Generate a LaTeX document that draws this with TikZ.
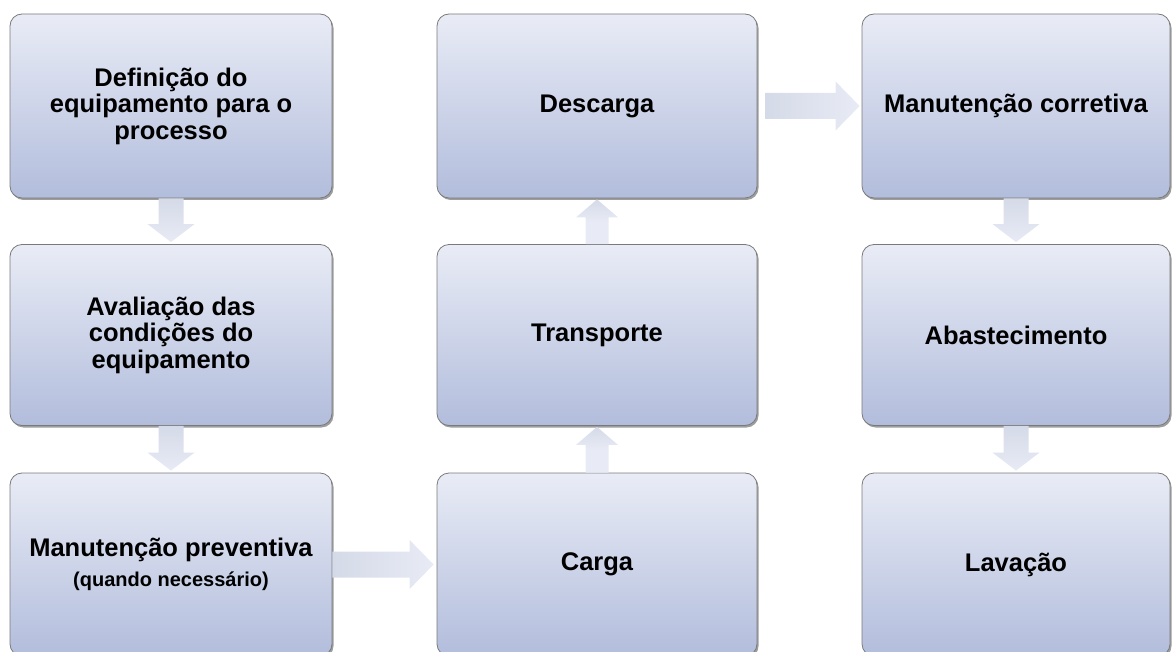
\documentclass[tikz,border=0pt]{standalone}
\usepackage{fontspec}
\setmainfont{Liberation Sans}
\usetikzlibrary{calc,shadows}
\definecolor{boxtop}{HTML}{E9ECF6}
\definecolor{boxbot}{HTML}{B2BDDC}
\definecolor{boxline}{HTML}{7A7A7A}
\definecolor{arrA}{HTML}{D5DAE8}
\definecolor{arrB}{HTML}{E8EBF5}
\tikzset{
  procbox/.style={rounded corners=12pt, draw=boxline, line width=0.8pt,
    top color=boxtop, bottom color=boxbot, align=center, inner sep=4pt,
    font=\bfseries\fontsize{25.5}{26.5}\selectfont, text=black,
    drop shadow={shadow xshift=1.5pt, shadow yshift=-2pt, opacity=0.55, fill=black!70}},
  downfat/.style={to path={let \p1=(\tikztostart), \p2=(\tikztotarget) in
    (\x1-12.5pt,\y1) -- (\x1-12.5pt,\y2+18pt) -- (\x1-23.5pt,\y2+18pt) -- (\x1,\y2)
    -- (\x1+23.5pt,\y2+18pt) -- (\x1+12.5pt,\y2+18pt) -- (\x1+12.5pt,\y1) -- cycle}},
  upfat/.style={to path={let \p1=(\tikztostart), \p2=(\tikztotarget) in
    (\x1-11.5pt,\y1) -- (\x1-11.5pt,\y2-18pt) -- (\x1-21pt,\y2-18pt) -- (\x1,\y2)
    -- (\x1+21pt,\y2-18pt) -- (\x1+11.5pt,\y2-18pt) -- (\x1+11.5pt,\y1) -- cycle}},
  rightfat/.style={to path={let \p1=(\tikztostart), \p2=(\tikztotarget) in
    (\x1,\y1-13pt) -- (\x2-24pt,\y1-13pt) -- (\x2-24pt,\y1-24.5pt) -- (\x2,\y1)
    -- (\x2-24pt,\y1+24.5pt) -- (\x2-24pt,\y1+13pt) -- (\x1,\y1+13pt) -- cycle}},
  vshade/.style={top color=arrA, bottom color=arrB},
  ushade/.style={top color=arrA, bottom color=arrB, middle color=arrB},
  hshade/.style={left color=arrA, right color=arrB},
}
\begin{document}
\begin{tikzpicture}[x=1pt,y=1pt]
\useasboundingbox (0,0) rectangle (1173,-652);
% column 1
\node[procbox, minimum width=322pt, minimum height=184pt] (def) at (171,-106)
  {Definição do\\equipamento para o\\processo};
\node[procbox, minimum width=322pt, minimum height=181pt] (ava) at (171,-335)
  {Avaliação das\\condições do\\equipamento};
\node[procbox, minimum width=322pt, minimum height=183pt] (prev) at (171,-564.5)
  {Manutenção preventiva\\[3pt]{\fontsize{20}{22}\selectfont (quando necessário)}};
% column 2
\node[procbox, minimum width=320pt, minimum height=184pt] (des) at (597,-106) {Descarga};
\node[procbox, minimum width=320pt, minimum height=181pt] (tra) at (597,-335) {Transporte};
\node[procbox, minimum width=320pt, minimum height=183pt] (car) at (597,-564.5) {Carga};
% column 3
\node[procbox, minimum width=308pt, minimum height=184pt] (cor) at (1016,-106) {Manutenção corretiva};
\node[procbox, minimum width=308pt, minimum height=181pt] (aba) at (1016,-335) {Abastecimento};
\node[procbox, minimum width=308pt, minimum height=183pt] (lav) at (1016,-564.5) {Lavação};
% arrows
\path[vshade] (def.south) to[downfat] ([yshift=2pt]ava.north);
\path[vshade] (ava.south) to[downfat] ([yshift=2pt]prev.north);
\path[hshade] (prev.east) to[rightfat] ([xshift=-3pt]car.west);
\path[ushade] (car.north) to[upfat] ([yshift=-1pt]tra.south);
\path[ushade] (tra.north) to[upfat] ([yshift=-1pt]des.south);
\path[hshade] ([xshift=8pt]des.east) to[rightfat] ([xshift=-2pt]cor.west);
\path[vshade] (cor.south) to[downfat] ([yshift=2pt]aba.north);
\path[vshade] (aba.south) to[downfat] ([yshift=2pt]lav.north);
\end{tikzpicture}
\end{document}
